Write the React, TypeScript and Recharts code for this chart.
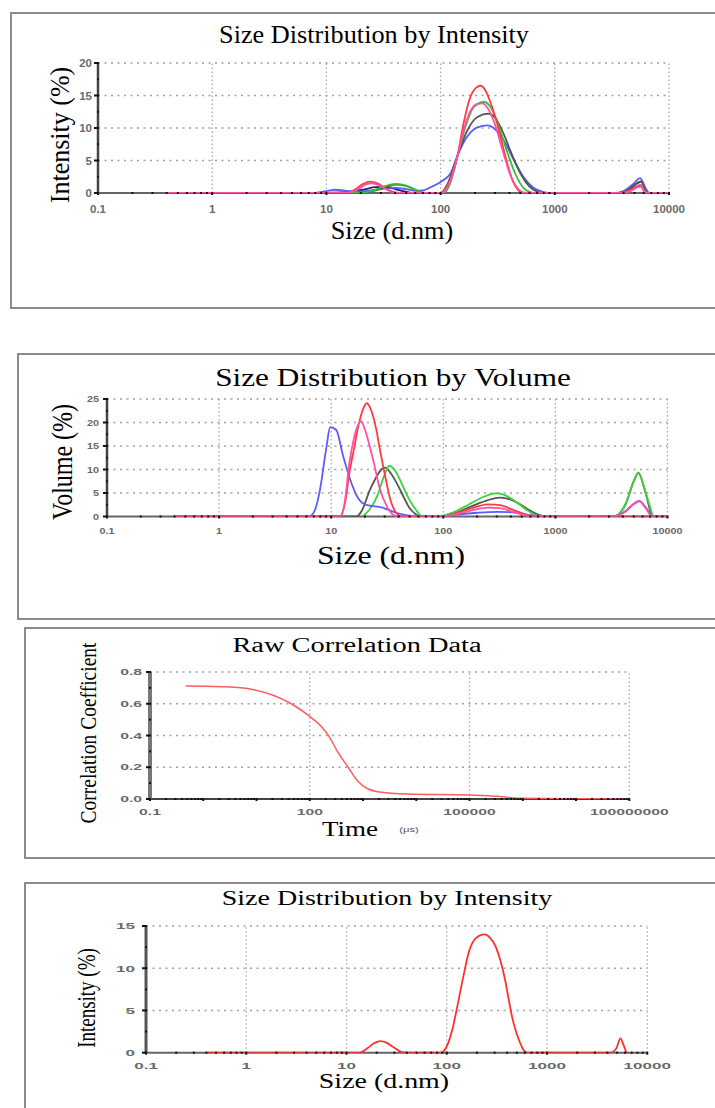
import React from "react";
import { LineChart, Line, XAxis, YAxis, ReferenceLine, CartesianGrid } from "recharts";

type Pt = [number, number];

// ---- Size Distribution by Intensity (six runs) : [size d.nm, intensity %]
const intNavyLow: Pt[] = [[10, 0], [16, 0.2], [21, 0.5], [27, 0.9], [34, 0.9], [44, 0.4], [55, 0]];
const intNavyHigh: Pt[] = [[3600, 0], [4500, 0.6], [5300, 1.5], [5800, 1.8], [6200, 0.7], [6600, 0]];
const intBlue: Pt[] = [[8, 0], [10, 0.3], [12, 0.5], [14, 0.4], [17, 0.2], [22, 0.3], [30, 0.6], [40, 0.8], [50, 0.6], [60, 0.35], [70, 0.4], [82, 0.9], [100, 1.7], [123, 3.1], [141, 5.8], [170, 8.6], [210, 10.1], [257, 10.4], [300, 9.8], [360, 8], [440, 5], [530, 2.5], [650, 0.8], [800, 0.15], [950, 0], [3300, 0], [4000, 0.3], [4800, 1.3], [5600, 2.3], [6100, 1.0], [6600, 0]];
const intGray: Pt[] = [[0.4, 0], [20, 0], [27, 0.4], [33, 0.9], [40, 1.3], [50, 1.1], [60, 0.5], [72, 0], [100, 0], [115, 1.4], [141, 5.8], [170, 9.5], [210, 11.7], [263, 12.2], [300, 11.6], [350, 9.4], [420, 6], [500, 3], [600, 1], [700, 0.2], [780, 0], [3600, 0], [4400, 0.5], [5200, 1.5], [5700, 1.8], [6100, 0.6], [6600, 0], [10000, 0]];
const intGreen: Pt[] = [[0.4, 0], [20, 0], [26, 0.4], [32, 1.0], [40, 1.4], [48, 1.2], [58, 0.6], [70, 0.1], [80, 0], [105, 0], [118, 1.0], [130, 3.2], [141, 5.8], [165, 10.2], [195, 13.2], [240, 14.0], [275, 13.2], [320, 10.5], [380, 6.5], [450, 3], [530, 0.8], [620, 0.1], [680, 0], [3800, 0], [4600, 0.4], [5300, 1.0], [5700, 1.2], [6100, 0.3], [6600, 0], [10000, 0]];
const intRed: Pt[] = [[0.4, 0], [15, 0], [18, 0.6], [21, 1.4], [24, 1.75], [28, 1.5], [33, 0.7], [40, 0.1], [46, 0], [100, 0], [110, 0.6], [125, 2.6], [141, 5.8], [158, 10.5], [180, 14.5], [205, 16.2], [224, 16.5], [250, 15.6], [275, 13.8], [300, 11.8], [336, 8.5], [380, 4.8], [430, 1.8], [480, 0.4], [520, 0], [3800, 0], [4500, 0.4], [5200, 1.0], [5600, 1.2], [6000, 0.4], [6500, 0], [10000, 0]];
const intPink: Pt[] = [[0.4, 0], [15, 0], [19, 0.6], [22, 1.3], [25, 1.5], [29, 1.2], [34, 0.5], [40, 0], [100, 0], [112, 0.6], [125, 2.4], [141, 5.8], [160, 9.8], [185, 12.8], [210, 13.7], [232, 13.8], [260, 13], [300, 10.5], [350, 6.5], [400, 3.2], [460, 1], [530, 0.1], [600, 0], [3800, 0], [4600, 0.3], [5300, 0.9], [5700, 1.0], [6100, 0.2], [6500, 0], [10000, 0]];

// ---- Size Distribution by Volume : [size d.nm, volume %]
const volGray: Pt[] = [[0.4, 0], [16.7, 0], [19, 1.5], [21.9, 5.4], [25, 8.2], [28, 10], [30.3, 10.4], [34, 9.2], [40.4, 6.1], [45, 3.8], [49.6, 1.9], [56, 0.6], [63, 0], [95, 0], [130, 0.8], [180, 2.2], [250, 3.5], [321, 4.0], [400, 3.6], [500, 2.4], [620, 1.0], [720, 0.3], [820, 0], [3300, 0], [4200, 2.5], [5000, 7.5], [5500, 9.3], [6300, 5.5], [7400, 0], [10000, 0]];
const volGreen: Pt[] = [[19, 0], [22, 1.5], [26, 4.6], [29, 8], [33, 10.8], [37, 9.8], [43, 6.8], [48, 4.3], [53, 2.5], [58, 1.2], [65, 0], [88, 0], [120, 0.8], [170, 2.6], [230, 4.2], [292, 4.9], [350, 4.6], [440, 3.2], [540, 1.6], [650, 0.4], [730, 0], [3300, 0], [4200, 2.5], [5000, 7.5], [5500, 9.4], [6300, 5.5], [7400, 0]];
const volBlue: Pt[] = [[6.5, 0], [7.2, 1.5], [7.9, 5.4], [9.05, 14.6], [9.8, 19], [11.1, 18.4], [12.7, 13.1], [14.6, 8.2], [17.3, 4], [20.4, 2.5], [28.6, 1.9], [37.7, 0.8], [49.6, 0.2], [60, 0], [100, 0], [130, 0.4], [200, 0.8], [300, 1.0], [450, 0.8], [600, 0.3], [800, 0], [3300, 0], [4200, 1.1], [5000, 2.7], [5600, 3.3], [6300, 2.1], [7300, 0]];
const volRed: Pt[] = [[0.4, 0], [11.9, 0], [13.3, 3], [14.6, 9.6], [16, 14.5], [17.3, 18.8], [19, 22.5], [20.8, 24.1], [22.8, 22.5], [25.1, 18.8], [27.3, 14], [29.7, 9.6], [34.1, 3.2], [39, 0.5], [44, 0], [100, 0], [130, 0.7], [180, 1.8], [250, 2.6], [320, 2.4], [420, 1.4], [550, 0.4], [650, 0], [10000, 0]];
const volPink: Pt[] = [[0.4, 0], [12, 0], [13, 2], [14.6, 11.7], [16.5, 18], [18.4, 20.3], [20, 18.5], [21.9, 15.2], [24.5, 10.5], [27, 6.1], [31.8, 1.9], [36, 0.3], [40, 0], [100, 0], [130, 0.5], [180, 1.3], [250, 1.9], [320, 1.8], [420, 1.0], [560, 0.2], [650, 0], [3300, 0], [4200, 1.0], [5000, 2.6], [5600, 3.2], [6300, 2.0], [7300, 0], [10000, 0]];

// ---- Raw Correlation Data : [time us, coefficient]
const corrCurve: Pt[] = [[0.47, 0.712], [1, 0.711], [3, 0.706], [8, 0.692], [20, 0.655], [45, 0.6], [100, 0.52], [160, 0.462], [230, 0.395], [330, 0.3], [525, 0.2], [800, 0.112], [1200, 0.066], [1870, 0.046], [7000, 0.031], [94000, 0.025], [370000, 0.015], [1000000, 0.004], [10000000, 0.001], [90000000, 0]];

// ---- Size Distribution by Intensity (single run)
const singleRun: Pt[] = [[0.4, 0], [13.6, 0], [16, 0.5], [19, 1.15], [21.6, 1.38], [25, 1.2], [29, 0.7], [35, 0.1], [40, 0], [88, 0], [95, 0.3], [103, 1.1], [114, 2.8], [125, 5], [145, 8.8], [165, 11.8], [193, 13.5], [238, 14.0], [270, 13.6], [309, 12.5], [345, 10.8], [382, 8.6], [415, 6.3], [447, 4.3], [490, 2.5], [525, 1.5], [565, 0.6], [605, 0.1], [640, 0], [4300, 0], [4900, 0.5], [5400, 1.7], [5800, 0.9], [6200, 0]];

// ---- axes
const sizeDecades = [0.1, 1, 10, 100, 1000, 10000];
const timeDecades = [0.1, 1, 10, 100, 1000, 10000, 100000, 1000000, 10000000, 100000000];
const timeLabels = [0.1, 100, 100000, 100000000];
const timeGrid = [100, 100000, 100000000];
const intTicks = [0, 5, 10, 15, 20];
const volTicks = [0, 5, 10, 15, 20, 25];
const corrTicks = [0, 0.2, 0.4, 0.6, 0.8];
const singleTicks = [0, 5, 10, 15];

const SERIF = '"Liberation Serif", "Times New Roman", serif';
const SANS = '"Liberation Sans", Arial, sans-serif';

const pts = (a: Pt[]) => a.map(([s, v]) => ({ s, v }));

function withMinors(decades: number[]) {
  const out: number[] = [];
  decades.forEach((d, i) => {
    out.push(d);
    if (i < decades.length - 1) for (let n = 2; n < 10; n++) out.push(d * n);
  });
  return out;
}
function halfSteps(majors: number[]) {
  const out: number[] = [];
  majors.forEach((m, i) => {
    out.push(m);
    if (i < majors.length - 1) out.push((m + majors[i + 1]) / 2);
  });
  return out;
}
const has = (list: number[], v: number) => list.some((l) => Math.abs(l - v) <= Math.abs(l) * 1e-6 + 1e-9);

interface Series { data: Pt[]; color: string; width?: number }
interface PlotProps {
  x: number; y: number; w: number; h: number;
  xDomain: [number, number]; xDecades: number[]; xLabels: number[]; xGrid: number[];
  yMajors: number[]; yGrid: number[]; yFmt: (v: number) => string;
  series: Series[];
  fs: number; sx: number; xDy: number; yGap: number;
  baseColor: string; yAxisLine: any;
}

function Plot(p: PlotProps) {
  const ML = 60, MT = 10, MR = 50, MB = 40;
  const yTicks = halfSteps(p.yMajors);
  const yTop = p.yMajors[p.yMajors.length - 1];
  const XTick = (t: any) => {
    const v = t.payload.value;
    const major = has(p.xDecades, v);
    return (
      <g>
        <rect x={t.x - 1} y={t.y - 1} width={2} height={major ? 3 : 2} fill="#111" />
        {has(p.xLabels, v) && (
          <text transform={`translate(${t.x},${t.y + p.xDy}) scale(${p.sx},1)`} textAnchor="middle" dominantBaseline="central" fontFamily={SANS} fontWeight="bold" fontSize={p.fs} fill="#6a6a6a">
            {String(v)}
          </text>
        )}
      </g>
    );
  };
  const YTick = (t: any) => {
    const v = t.payload.value;
    const major = has(p.yMajors, v);
    return (
      <g>
        <rect x={t.x - (major ? 4 : 1)} y={t.y - 1} width={major ? 5 : 2} height={2} fill="#111" />
        {major && (
          <text transform={`translate(${t.x - p.yGap},${t.y}) scale(${p.sx},1)`} textAnchor="end" dominantBaseline="central" fontFamily={SANS} fontWeight="bold" fontSize={p.fs} fill="#6a6a6a">
            {p.yFmt(v)}
          </text>
        )}
      </g>
    );
  };
  return (
    <div style={{ position: "absolute", left: p.x - ML, top: p.y - MT }}>
      <LineChart width={p.w + ML + MR} height={p.h + MT + MB} margin={{ top: MT, right: MR, left: 0, bottom: 0 }}>
        {/* baseline of the size axis, kept under the runs */}
        <CartesianGrid vertical={false} stroke={p.baseColor} strokeWidth={2}
          horizontalCoordinatesGenerator={({ offset }: any) => [offset.top + offset.height]} />
        {p.xGrid.map((v) => (
          <ReferenceLine key={"gx" + v} x={v} stroke="#a8a8a8" strokeWidth={1.3} strokeDasharray="1.5 2.5" />
        ))}
        {p.yGrid.map((v) => (
          <ReferenceLine key={"gy" + v} y={v} stroke="#a0a0a0" strokeWidth={1.6} strokeDasharray="2 4.5" />
        ))}
        {p.series.map((s, i) => (
          <Line key={i} data={pts(s.data)} dataKey="v" type="monotone" stroke={s.color} strokeWidth={s.width ?? 1.8} dot={false} activeDot={false} isAnimationActive={false} />
        ))}
        <XAxis type="number" dataKey="s" scale="log" domain={p.xDomain} allowDataOverflow ticks={withMinors(p.xDecades)} interval={0} tickSize={0} tickMargin={0} tickLine={false} height={MB} axisLine={false} tick={XTick} />
        <YAxis type="number" domain={[0, yTop]} allowDataOverflow ticks={yTicks} interval={0} tickSize={0} tickMargin={0} tickLine={false} width={ML} axisLine={p.yAxisLine} tick={YTick} />
      </LineChart>
    </div>
  );
}

function Txt({ x, y, size, sx = 1, rot = false, color = "#000", family = SERIF, children }: any) {
  const t = rot ? `translate(-50%,-50%) rotate(-90deg) scaleY(${sx})` : `translate(-50%,-50%) scaleX(${sx})`;
  return (
    <div style={{ position: "absolute", left: x, top: y, transform: t, fontFamily: family, fontSize: size, lineHeight: 1, whiteSpace: "nowrap", color }}>
      {children}
    </div>
  );
}

function Box({ left, top, height }: { left: number; top: number; height: number }) {
  return <div style={{ position: "absolute", left, top, width: 760, height, border: "2px solid #8c8c8c", boxSizing: "border-box", background: "#fff" }} />;
}

const intFmt = (v: number) => String(v);
const corrFmt = (v: number) => v.toFixed(1);

export default function App() {
  return (
    <div style={{ position: "absolute", left: 0, top: 0, width: 715, height: 1108, overflow: "hidden", background: "#fff" }}>
      <Box left={10} top={12} height={297} />
      <Box left={17} top={353} height={267} />
      <Box left={24} top={627} height={232} />
      <Box left={24} top={882} height={240} />

      {/* panel 1 */}
      <Txt x={374} y={34} size={25} sx={1.05}>Size Distribution by Intensity</Txt>
      <Txt x={61} y={135} size={26} sx={1.05} rot>Intensity (%)</Txt>
      <Txt x={392} y={230} size={25} sx={1.05}>Size (d.nm)</Txt>
      <Plot x={98} y={63} w={571} h={130} xDomain={[0.1, 10000]} xDecades={sizeDecades} xLabels={sizeDecades} xGrid={sizeDecades.slice(1)}
        yMajors={intTicks} yGrid={intTicks.slice(1)} yFmt={intFmt} fs={11.5} sx={1} xDy={16} yGap={6}
        baseColor="#666" yAxisLine={{ stroke: "#444", strokeWidth: 2.5 }}
        series={[
          { data: intNavyLow, color: "#202080" },
          { data: intNavyHigh, color: "#202080" },
          { data: intBlue, color: "#5b5bff" },
          { data: intGray, color: "#555555" },
          { data: intGreen, color: "#2fc12f" },
          { data: intRed, color: "#ff3b3b" },
          { data: intPink, color: "#ff4fa8" },
        ]} />

      {/* panel 2 */}
      <Txt x={393} y={377} size={25} sx={1.25}>Size Distribution by Volume</Txt>
      <Txt x={62} y={462} size={24} sx={1.25} rot>Volume (%)</Txt>
      <Txt x={391} y={555} size={25} sx={1.27}>Size (d.nm)</Txt>
      <Plot x={107} y={398.5} w={560.5} h={117.5} xDomain={[0.1, 10000]} xDecades={sizeDecades} xLabels={sizeDecades} xGrid={sizeDecades.slice(1)}
        yMajors={volTicks} yGrid={volTicks.slice(1)} yFmt={intFmt} fs={8.5} sx={1.27} xDy={14} yGap={8}
        baseColor="#666" yAxisLine={{ stroke: "#444", strokeWidth: 2.5 }}
        series={[
          { data: volGray, color: "#555555" },
          { data: volGreen, color: "#3bd43b" },
          { data: volBlue, color: "#5b5bff" },
          { data: volRed, color: "#ff3b3b" },
          { data: volPink, color: "#ff4fa8" },
        ]} />

      {/* panel 3 */}
      <Txt x={357} y={645} size={20} sx={1.42}>Raw Correlation Data</Txt>
      <Txt x={88} y={733} size={19.5} sx={1.2} rot>Correlation Coefficient</Txt>
      <Txt x={350} y={829} size={20} sx={1.35}>Time</Txt>
      <Txt x={409} y={830} size={8} sx={1.4} color="#555" family={SANS}>(μs)</Txt>
      <Plot x={150} y={672} w={479.3} h={127} xDomain={[0.1, 100000000]} xDecades={timeDecades} xLabels={timeLabels} xGrid={timeGrid}
        yMajors={corrTicks} yGrid={corrTicks.slice(1)} yFmt={corrFmt} fs={9} sx={1.75} xDy={13} yGap={8}
        baseColor="#444" yAxisLine={{ stroke: "#777", strokeWidth: 4 }}
        series={[{ data: corrCurve, color: "#ff5c5c", width: 1.5 }]} />

      {/* panel 4 */}
      <Txt x={387} y={898} size={20} sx={1.4}>Size Distribution by Intensity</Txt>
      <Txt x={87} y={998} size={19} sx={1.3} rot>Intensity (%)</Txt>
      <Txt x={384} y={1081} size={21} sx={1.33}>Size (d.nm)</Txt>
      <Plot x={146} y={926} w={501.3} h={126.7} xDomain={[0.1, 10000]} xDecades={sizeDecades} xLabels={sizeDecades} xGrid={sizeDecades.slice(1)}
        yMajors={singleTicks} yGrid={singleTicks.slice(1)} yFmt={intFmt} fs={9.5} sx={1.8} xDy={12.5} yGap={11}
        baseColor="#666" yAxisLine={{ stroke: "#555", strokeWidth: 3 }}
        series={[{ data: singleRun, color: "#ff3030", width: 1.8 }]} />
    </div>
  );
}
